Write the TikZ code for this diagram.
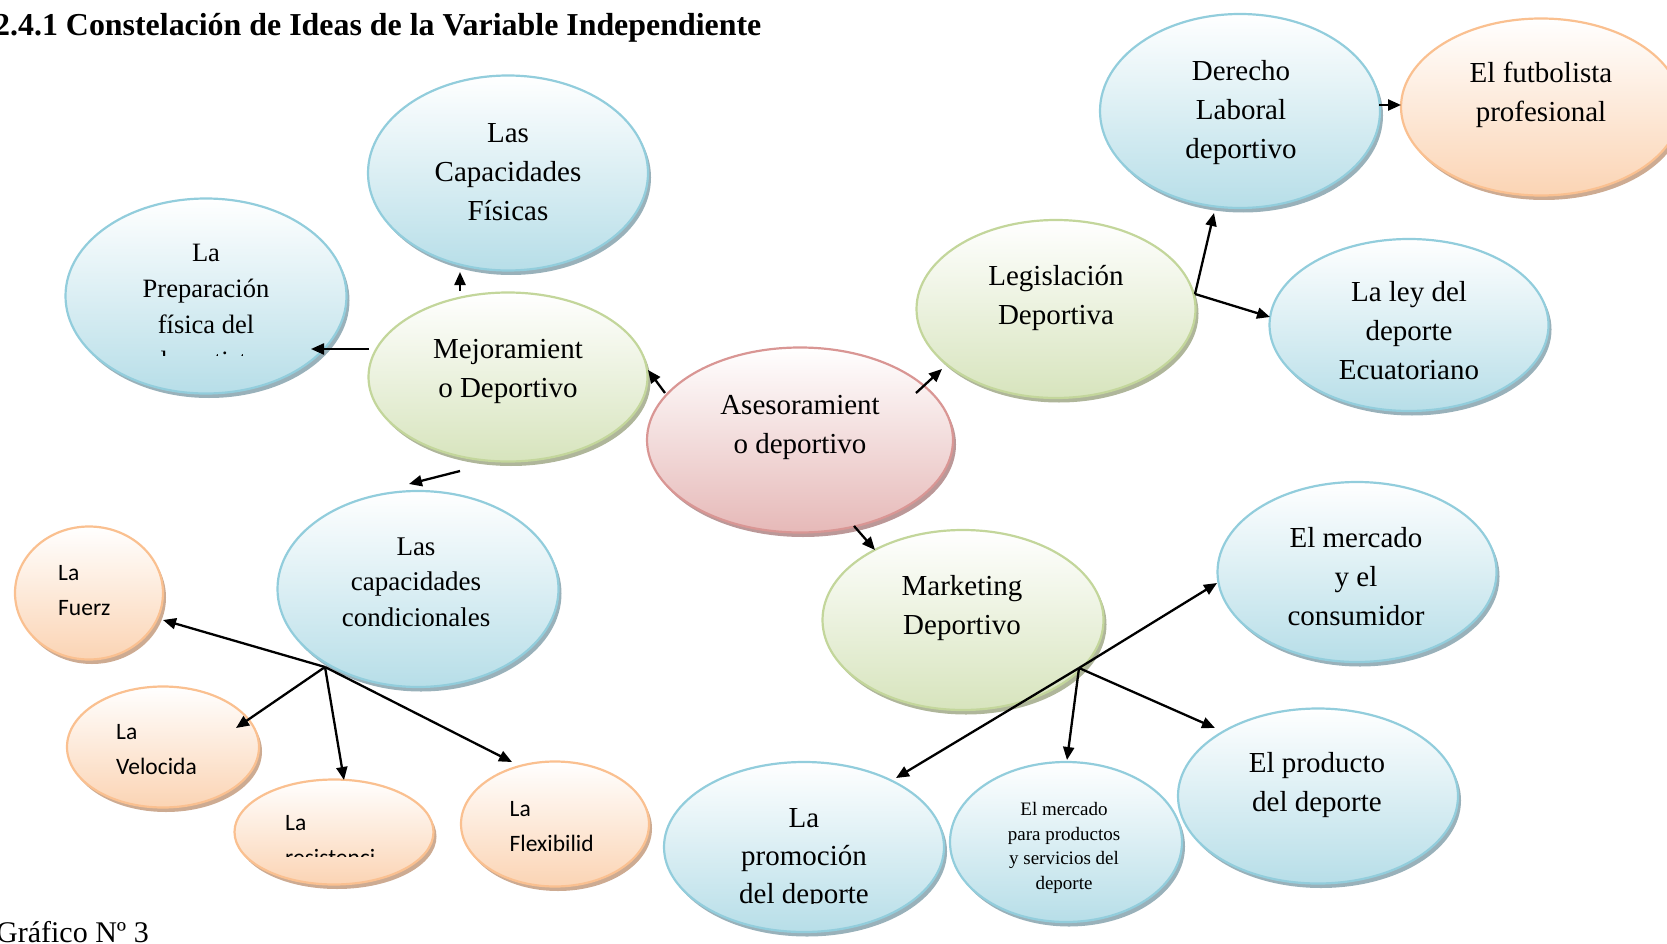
\documentclass[tikz,border=0pt]{standalone}
\usepackage{fontspec}
\setmainfont{Liberation Serif}
\newfontfamily\carl{Carlito}
\usetikzlibrary{shapes.geometric,shadows,arrows.meta}
\definecolor{bluebd}{HTML}{92CDDC}
\definecolor{bluebot}{HTML}{B7DEE8}
\definecolor{bluesh}{HTML}{8EA9B3}
\definecolor{greenbd}{HTML}{C3D69B}
\definecolor{greenbot}{HTML}{D7E4BD}
\definecolor{greensh}{HTML}{A6AE8F}
\definecolor{pinkbd}{HTML}{D99694}
\definecolor{pinkbot}{HTML}{E6B9B8}
\definecolor{pinksh}{HTML}{B48D8D}
\definecolor{orbd}{HTML}{FAC090}
\definecolor{orbot}{HTML}{FBD4B4}
\definecolor{orsh}{HTML}{C8A286}
\begin{document}
\begin{tikzpicture}[x=1pt,y=-1pt,
  bub/.style={ellipse, inner sep=0pt, line width=2.2pt},
  blueb/.style={bub, draw=bluebd, top color=white, bottom color=bluebot,
    drop shadow={shadow xshift=3pt, shadow yshift=-4.5pt, fill=bluesh, opacity=0.9}},
  greenb/.style={bub, draw=greenbd, top color=white, bottom color=greenbot,
    drop shadow={shadow xshift=3pt, shadow yshift=-4.5pt, fill=greensh, opacity=0.9}},
  pinkb/.style={bub, draw=pinkbd, top color=white, bottom color=pinkbot,
    drop shadow={shadow xshift=3pt, shadow yshift=-4.5pt, fill=pinksh, opacity=0.9}},
  orb/.style={bub, draw=orbd, top color=white, bottom color=orbot,
    drop shadow={shadow xshift=3pt, shadow yshift=-4.5pt, fill=orsh, opacity=0.9}},
  txt/.style={align=center, inner sep=0pt, font=\fontsize{29}{39}\selectfont},
  otxt/.style={align=left, anchor=west, inner sep=0pt, font=\carl\fontsize{23.5}{35}\selectfont},
  arr/.style={-{Triangle[length=13pt,width=11pt]}, line width=2.3pt, black},
]
\useasboundingbox (0,0) rectangle (1667,944);
\clip (0,0) rectangle (1667,944);

% title and caption
\node[anchor=base west, inner sep=0pt, font=\bfseries\fontsize{31.9}{36}\selectfont] (title) at (-6,36)
  {2.4.1 Constelación de Ideas de la Variable Independiente};
\node[anchor=base west, inner sep=0pt, font=\fontsize{30}{34}\selectfont] (cap) at (-4,942) {Gráfico Nº 3};

% ellipses
\node[blueb, minimum width=280pt, minimum height=195pt] (cf) at (508,173) {};
\node[blueb, minimum width=281pt, minimum height=195pt] (prep) at (206,296) {};
\node[greenb, minimum width=279pt, minimum height=169pt] (mej) at (508,377) {};
\node[blueb, minimum width=281pt, minimum height=196pt] (cc) at (418,589) {};
\node[orb, minimum width=148pt, minimum height=133pt] (fue) at (89,593) {};
\node[orb, minimum width=192pt, minimum height=121pt] (vel) at (163,747) {};
\node[orb, minimum width=199pt, minimum height=105pt] (res) at (334,832) {};
\node[orb, minimum width=188pt, minimum height=125pt] (flex) at (555,824) {};
\node[pinkb, minimum width=306pt, minimum height=185pt] (ases) at (800,440) {};
\node[greenb, minimum width=279pt, minimum height=178pt] (leg) at (1056,309) {};
\node[blueb, minimum width=280pt, minimum height=194pt] (der) at (1240,111) {};
\node[orb, minimum width=280pt, minimum height=177pt] (fut) at (1541,107) {};
\node[blueb, minimum width=279pt, minimum height=172pt] (ley) at (1409,325) {};
\node[greenb, minimum width=281pt, minimum height=180pt] (mkt) at (963,620) {};
\node[blueb, minimum width=279pt, minimum height=180pt] (cons) at (1357,572) {};
\node[blueb, minimum width=280pt, minimum height=175pt] (prod) at (1318,796) {};
\node[blueb, minimum width=280pt, minimum height=170pt] (prom) at (804,847) {};
\node[blueb, minimum width=232pt, minimum height=160pt] (merc) at (1066,842) {};

% texts
\node[txt] (cf-t) at (508,172) {Las\\Capacidades\\Físicas};
\begin{scope}
  \clip (60,190) rectangle (360,355.5);
  \node[txt, font=\fontsize{26.5}{36}\selectfont] (prep-t) at (206,310) {La\\Preparación\\física del\\deportista};
\end{scope}
\node[txt] (mej-t) at (508,371) {Mejoramient\\o Deportivo};
\node[txt] (ases-t) at (800,427) {Asesoramient\\o deportivo};
\node[txt] (leg-t) at (1056,298) {Legislación\\Deportiva};
\node[txt] (der-t) at (1241,113) {Derecho\\Laboral\\deportivo};
\node[txt] (fut-t) at (1541,95) {El futbolista\\profesional};
\node[txt] (ley-t) at (1409,331) {La ley del\\deporte\\Ecuatoriano};
\node[txt, font=\fontsize{27}{35.5}\selectfont] (cc-t) at (416,582) {Las\\capacidades\\condicionales};
\node[txt] (mkt-t) at (962,608) {Marketing\\Deportivo};
\node[txt] (cons-t) at (1356,577) {El mercado\\y el\\consumidor};
\node[txt] (prod-t) at (1317,785) {El producto\\del deporte};
\begin{scope}
  \clip (650,740) rectangle (960,903);
  \node[txt, font=\fontsize{29}{38}\selectfont] (prom-t) at (804,859) {La\\promoción\\del deporte};
\end{scope}
\node[txt, font=\fontsize{19}{24.5}\selectfont] (merc-t) at (1064,848) {El mercado\\para productos\\y servicios del\\deporte};
\node[otxt] (fue-t) at (58,591) {La\\Fuerz};
\node[otxt] (vel-t) at (116,750) {La\\Velocida};
\begin{scope}
  \clip (230,780) rectangle (440,856);
  \node[otxt] (res-t) at (285,841) {La\\resistenci};
\end{scope}
\node[otxt] (flex-t) at (509.5,827) {La\\Flexibilid};

% hubs
\coordinate (cchub) at (325,667);
\coordinate (mkthub) at (1079,668);
\coordinate (leghub) at (1195,294);

% connectors
\draw[arr] ([shift={(-48,-86)}]mej.center) -- ([shift={(-48,99)}]cf.center);
\draw[arr] ([shift={(-139,-28)}]mej.center) -- ([shift={(105,53)}]prep.center);
\draw[arr] ([shift={(-48,94)}]mej.center) -- ([shift={(-9,-105)}]cc.center);
\draw[arr] ([shift={(-135,-47)}]ases.center) -- ([shift={(140,-7)}]mej.center);
\draw[arr] ([shift={(116,-47)}]ases.center) -- ([shift={(-114,60)}]leg.center);
\draw[arr] ([shift={(54,86)}]ases.center) -- ([shift={(-88,-70)}]mkt.center);
\draw[line width=2.3pt] ([shift={(139,-15)}]leg.center) -- (leghub);
\draw[arr] (leghub) -- ([shift={(-26,102)}]der.center);
\draw[arr] (leghub) -- ([shift={(-139,-8)}]ley.center);
\draw[arr] ([shift={(139,-6)}]der.center) -- ([shift={(-140,-2)}]fut.center);
\draw[arr] (cchub) -- ([shift={(74,27)}]fue.center);
\draw[arr] (cchub) -- ([shift={(73,-19)}]vel.center);
\draw[arr] (cchub) -- ([shift={(10,-52)}]res.center);
\draw[arr] (cchub) -- ([shift={(-43,-62)}]flex.center);
\draw[arr] (mkthub) -- ([shift={(-140,11)}]cons.center);
\draw[arr] (mkthub) -- ([shift={(-103,-68)}]prod.center);
\draw[arr] (mkthub) -- ([shift={(1,-82)}]merc.center);
\draw[arr] (mkthub) -- ([shift={(92,-69)}]prom.center);
\end{tikzpicture}
\end{document}
